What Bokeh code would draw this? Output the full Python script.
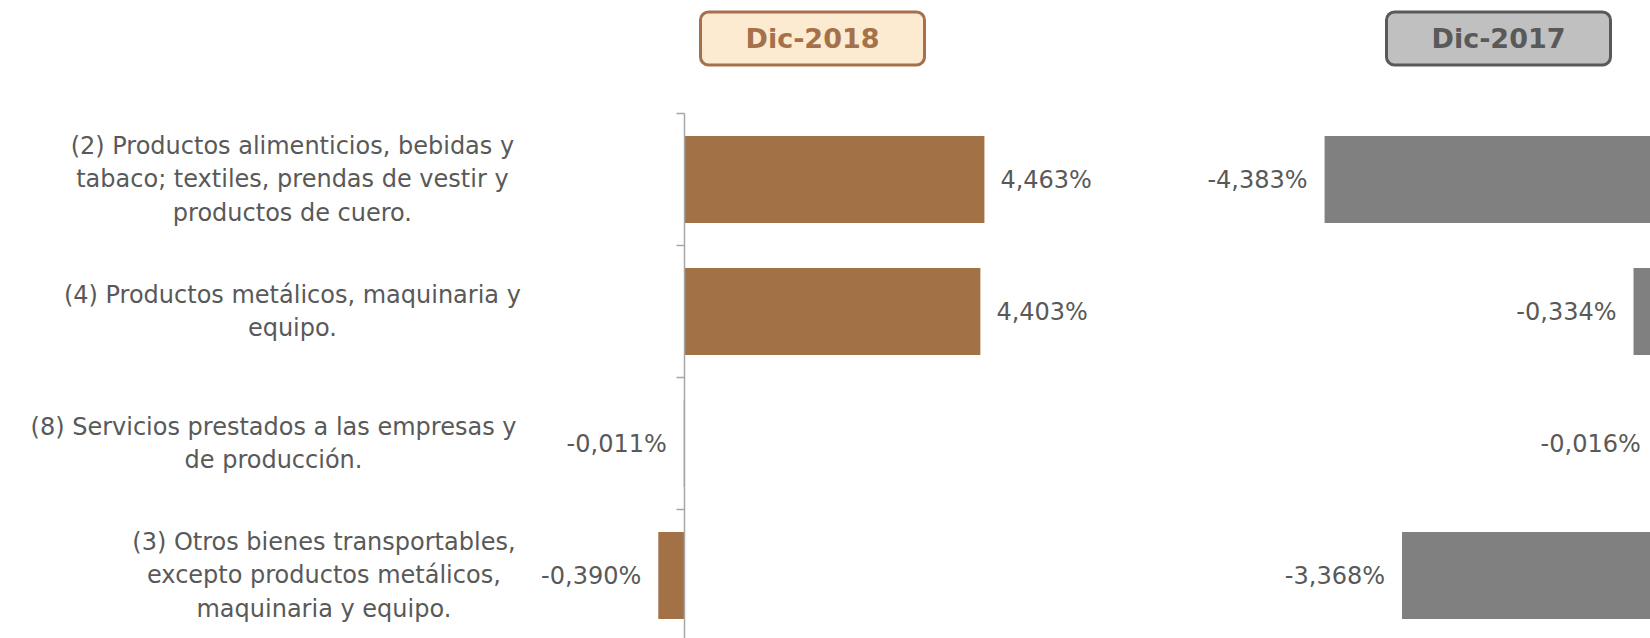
from bokeh.plotting import figure
from bokeh.models import Range1d, Label, ColumnDataSource, BoxAnnotation
from bokeh.core.properties import value
from bokeh.embed import file_html
from bokeh.resources import INLINE

# ---------------- data ----------------
categories = [
    "(2) Productos alimenticios, bebidas y\ntabaco; textiles, prendas de vestir y\nproductos de cuero.",
    "(4) Productos metálicos, maquinaria y\nequipo.",
    "(8) Servicios prestados a las empresas y\nde producción.",
    "(3) Otros bienes transportables,\nexcepto productos metálicos,\nmaquinaria y equipo.",
]
series_names = ["Dic-2018", "Dic-2017"]
dic2018 = [4.463, 4.403, -0.011, -0.390]
dic2017 = [-4.383, -0.334, -0.016, -3.368]

# ---------------- layout / style ----------------
W, H = 1650, 638
AX0 = 684.0      # pixel of zero for left panel
S1 = 67.2        # px per unit, left panel
R0 = 1658.5      # pixel of zero for right panel
S2 = 76.3        # px per unit, right panel
ROW0 = 179.0     # pixel of first row center
ROWH = 132.0     # pixel per row
BAR_H = 0.66
FONT = "DejaVu Sans"
TXT = "#595959"
BROWN = "#A27146"
GRAY = "#808080"

n = len(categories)
idx = list(range(n))

p = figure(width=W, height=H,
           x_range=Range1d(-AX0 / S1, (W - AX0) / S1),
           y_range=Range1d((H - ROW0) / ROWH, -ROW0 / ROWH),
           output_backend="svg", toolbar_location=None, min_border=0,
           x_axis_type=None, y_axis_type=None)
p.extra_x_ranges = {"r": Range1d(-R0 / S2, (W - R0) / S2)}
p.outline_line_color = None
p.background_fill_color = "white"
p.border_fill_color = "white"
p.xgrid.visible = False
p.ygrid.visible = False

# faint light-grey gradient toward the bottom (slide background), drawn under the bars
for k in range(14):
    p.add_layout(BoxAnnotation(top=H - (380 + k * 16), bottom=0, top_units="screen",
                               bottom_units="screen", fill_color="#D8D8D8",
                               fill_alpha=0.012, line_color=None, level="underlay"))

# bars
p.hbar(y=idx, left=0, right=dic2018, height=BAR_H, fill_color=BROWN, line_color=None)
p.hbar(y=idx, left=dic2017, right=0, height=BAR_H, fill_color=GRAY, line_color=None,
       x_range_name="r")

def fmt(v):
    return f"{v:.3f}".replace(".", ",") + "%"

def label_src(vals):
    return ColumnDataSource(dict(
        x=vals, y=idx, t=[fmt(v) for v in vals],
        align=["left" if v >= 0 else "right" for v in vals],
        off=[16 if v >= 0 else -17 for v in vals],
    ))

VAL_FS = "24px"
p.text(x="x", y="y", text="t", source=label_src(dic2018), x_offset="off",
       text_align="align", text_baseline="middle", text_color=TXT,
       text_font=value(FONT), text_font_size=VAL_FS)
p.text(x="x", y="y", text="t", source=label_src(dic2017), x_offset="off",
       text_align="align", text_baseline="middle", text_color=TXT,
       text_font=value(FONT), text_font_size=VAL_FS, x_range_name="r")

# category axis line and ticks (boundaries between categories)
bounds = [i - 0.5 for i in range(n + 1)]
p.segment(x0=[0], y0=[bounds[0]], x1=[0], y1=[bounds[-1]], line_color="#A6A6A6", line_width=1.5)
tick = 8 / S1
p.segment(x0=[0] * len(bounds), y0=bounds, x1=[-tick] * len(bounds), y1=bounds,
          line_color="#A6A6A6", line_width=1.5)

# category labels: centered lines, block right-aligned near the axis
RIGHT_PX = 525
PX_PER_CHAR = 12.6
cx = []
for c in categories:
    w = PX_PER_CHAR * max(len(s) for s in c.split("\n"))
    cx.append((RIGHT_PX - w / 2 - AX0) / S1)
p.text(x=cx, y=idx, text=categories, text_align="center", text_baseline="middle",
       text_color=TXT, text_font=value(FONT), text_font_size="24px",
       text_line_height=1.19)

# header boxes
hdr = [
    (812, series_names[0], "#FCEBD0", "#A5714A", "#A5714A"),
    (1498, series_names[1], "#C0C0C0", "#595959", "#595959"),
]
for x, t, fill, border, col in hdr:
    p.add_layout(Label(x=x, y=H - 38, x_units="screen", y_units="screen", text=t,
                       text_align="center", text_baseline="middle",
                       text_font=FONT, text_font_size="27px", text_font_style="bold",
                       text_color=col, background_fill_color=fill,
                       border_line_color=border, border_line_width=3,
                       border_radius=8, padding=(45, 11)))

open("out.html", "w").write(file_html(p, INLINE))
